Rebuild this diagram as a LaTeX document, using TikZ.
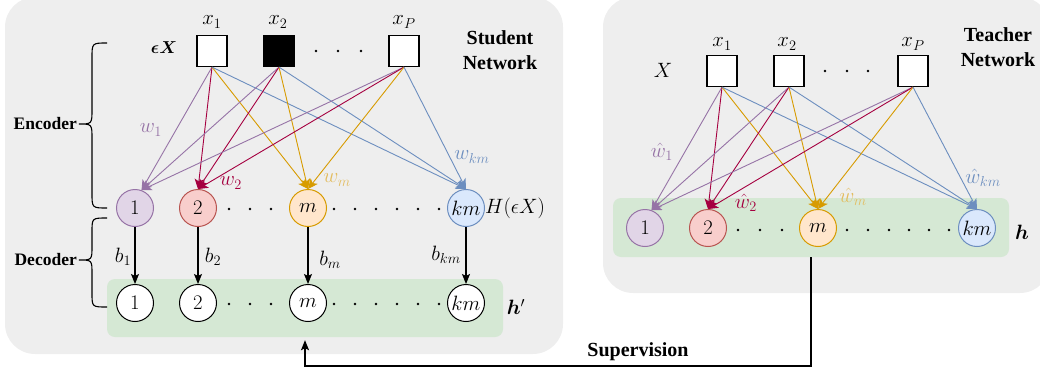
\documentclass[tikz,border=0pt]{standalone}
\usepackage{amsmath,bm}
\usepackage[no-math]{fontspec}
\setmainfont{Liberation Serif}
\usetikzlibrary{arrows.meta}
\definecolor{panelgray}{HTML}{EEEEEE}
\definecolor{hgreen}{HTML}{D5E8D4}
\definecolor{pur}{HTML}{9673A6}
\definecolor{purfill}{HTML}{E1D5E7}
\definecolor{crim}{HTML}{A50040}
\definecolor{redline}{HTML}{B85450}
\definecolor{redfill}{HTML}{F8CECC}
\definecolor{ora}{HTML}{D79B00}
\definecolor{orafill}{HTML}{FFE6CC}
\definecolor{oralab}{HTML}{E3BC5E}
\definecolor{blu}{HTML}{6C8EBF}
\definecolor{blufill}{HTML}{DAE8FC}
\tikzset{
  lab/.style={font=\fontsize{20}{24}\selectfont, inner sep=0pt},
  boldlab/.style={font=\fontsize{20}{25}\selectfont\bfseries, align=center, inner sep=0pt},
  sidelab/.style={font=\fontsize{17.5}{20}\selectfont\bfseries, inner sep=0pt},
  inbox/.style={draw=black, line width=1.2pt, fill=white, minimum width=30pt, minimum height=31pt, inner sep=0pt},
  neur/.style={circle, line width=1pt, minimum size=37pt, inner sep=0pt, font=\fontsize{20}{24}\selectfont},
  npur/.style={neur, draw=pur, fill=purfill},
  nred/.style={neur, draw=redline, fill=redfill},
  nora/.style={neur, draw=ora, fill=orafill},
  nblu/.style={neur, draw=blu, fill=blufill},
  nwhite/.style={neur, draw=black, fill=white},
  wedge/.style={line width=0.9pt, -{Stealth[length=10pt,width=9pt,inset=2.5pt]}},
  dedge/.style={line width=1.1pt, draw=black, -{Stealth[length=10pt,width=8pt,inset=2pt]}},
  brace/.style={line width=1.1pt, draw=black},
}
\begin{document}
\begin{tikzpicture}[x=1pt,y=-1pt]
\useasboundingbox (0,0) rectangle (1040,375);
% panels
\fill[panelgray, rounded corners=30pt] (5,-3) rectangle (563,354);
\fill[panelgray, rounded corners=30pt] (603,-3) rectangle (1050,293);
\node[fill=hgreen, rounded corners=8pt, minimum width=396pt, minimum height=58pt, inner sep=0pt] (Lh) at (305,308) {};
\node[fill=hgreen, rounded corners=8pt, minimum width=396pt, minimum height=59pt, inner sep=0pt] (Rh) at (811,227.5) {};

% ---------------- Student ----------------
\node[boldlab] (stud) at (500,50) {Student\\Network};
\node[lab, font=\fontsize{19}{24}\selectfont] (eX) at (164,48) {$\boldsymbol{\epsilon X}$};
\node[inbox] (Lx1) at (212,51) {};
\node[inbox, fill=black] (Lx2) at (279,51) {};
\node[inbox] (LxP) at (404,51) {};
\node[lab] (Llx1) at (212,22) {$x_1$};
\node[lab] (Llx2) at (278,22) {$x_2$};
\node[lab] (LlxP) at (404,22) {$x_P$};
\foreach \x in {316,338,361} \fill (\x,51) circle (1.4pt);

\node[npur] (Le1) at (135,208) {$1$};
\node[nred] (Le2) at (198,208) {$2$};
\node[nora] (Lem) at (308,208) {$m$};
\node[nblu] (Lekm) at (466,208) {$km$};
\node[lab] (LH) at (515,208) {$H(\epsilon X)$};
\foreach \x in {229,250,271,334,355,376,397,418,439} \fill (\x,209) circle (1.4pt);

\node[nwhite] (Ld1) at (135,303) {$1$};
\node[nwhite] (Ld2) at (198,303) {$2$};
\node[nwhite] (Ldm) at (308,303) {$m$};
\node[nwhite] (Ldkm) at (466,303) {$km$};
\node[lab] (Lhp) at (516,307) {$\boldsymbol{h}'$};
\foreach \x in {229,250,271,334,355,376,397,418,439} \fill (\x,304) circle (1.4pt);

\foreach \s in {Lx1,Lx2,LxP}{
  \draw[wedge, pur] (\s.south) -- (Le1.70);
  \draw[wedge, crim] (\s.south) -- (Le2.north);
  \draw[wedge, ora] (\s.south) -- (Lem.north);
  \draw[wedge, blu] (\s.south) -- (Lekm.north);
}
\node[lab, text=pur] (Lw1) at (151,130) {$w_1$};
\node[lab, text=crim] (Lw2) at (231,183) {$w_2$};
\node[lab, text=oralab] (Lwm) at (337,180) {$w_m$};
\node[lab, text=blu] (Lwkm) at (472,157) {$w_{km}$};

\draw[dedge] (Le1) -- (Ld1);
\draw[dedge] (Le2) -- (Ld2);
\draw[dedge] (Lem) -- (Ldm);
\draw[dedge] (Lekm) -- (Ldkm);
\node[lab] (Lb1) at (123,257) {$b_1$};
\node[lab] (Lb2) at (213,257) {$b_2$};
\node[lab] (Lbm) at (330,260) {$b_m$};
\node[lab] (Lbkm) at (446,255) {$b_{km}$};

% braces
\node[sidelab, anchor=east] (enc) at (77,124) {Encoder};
\node[sidelab, anchor=east] (dec) at (77,260) {Decoder};
\draw[brace] (107,43) .. controls (92,43) .. (92,58) -- (92,109) .. controls (92,124) .. (79,124)
   .. controls (92,124) .. (92,139) -- (92,193) .. controls (92,208) .. (107,208);
\draw[brace] (107,218) .. controls (92,218) .. (92,232) -- (92,246) .. controls (92,260) .. (79,260)
   .. controls (92,260) .. (92,274) -- (92,293) .. controls (92,307) .. (107,307);

% ---------------- Teacher ----------------
\node[boldlab] (teach) at (998,47) {Teacher\\Network};
\node[lab] (RX) at (663,70) {$X$};
\node[inbox] (Rx1) at (722,71) {};
\node[inbox] (Rx2) at (789,71) {};
\node[inbox] (RxP) at (913,71) {};
\node[lab] (Rlx1) at (722,44) {$x_1$};
\node[lab] (Rlx2) at (787,44) {$x_2$};
\node[lab] (RlxP) at (913,44) {$x_P$};
\foreach \x in {825,847,868} \fill (\x,71) circle (1.4pt);

\node[npur] (Re1) at (645,228) {$1$};
\node[nred] (Re2) at (708,228) {$2$};
\node[nora] (Rem) at (818,228) {$m$};
\node[nblu] (Rekm) at (977,228) {$km$};
\node[lab] (Rhh) at (1022,232) {$\boldsymbol{h}$};
\foreach \x in {738,760,782,847,868,889,909,929,949} \fill (\x,230) circle (1.4pt);

\foreach \s in {Rx1,Rx2,RxP}{
  \draw[wedge, pur] (\s.south) -- (Re1.70);
  \draw[wedge, crim] (\s.south) -- (Re2.north);
  \draw[wedge, ora] (\s.south) -- (Rem.north);
  \draw[wedge, blu] (\s.south) -- (Rekm.north);
}
\node[lab, text=pur] (Rw1) at (662,152) {$\hat{w}_1$};
\node[lab, text=crim] (Rw2) at (746,203) {$\hat{w}_2$};
\node[lab, text=oralab] (Rwm) at (853,197) {$\hat{w}_m$};
\node[lab, text=blu] (Rwkm) at (983,178) {$\hat{w}_{km}$};

% supervision
\coordinate (s1) at (811,366);
\coordinate (s2) at (305,366);
\draw[dedge] (Rh.south) -- (s1) -- (s2) -- ([yshift=-3pt]Lh.south);
\node[boldlab] (sup) at (638,352) {Supervision};
\end{tikzpicture}
\end{document}
